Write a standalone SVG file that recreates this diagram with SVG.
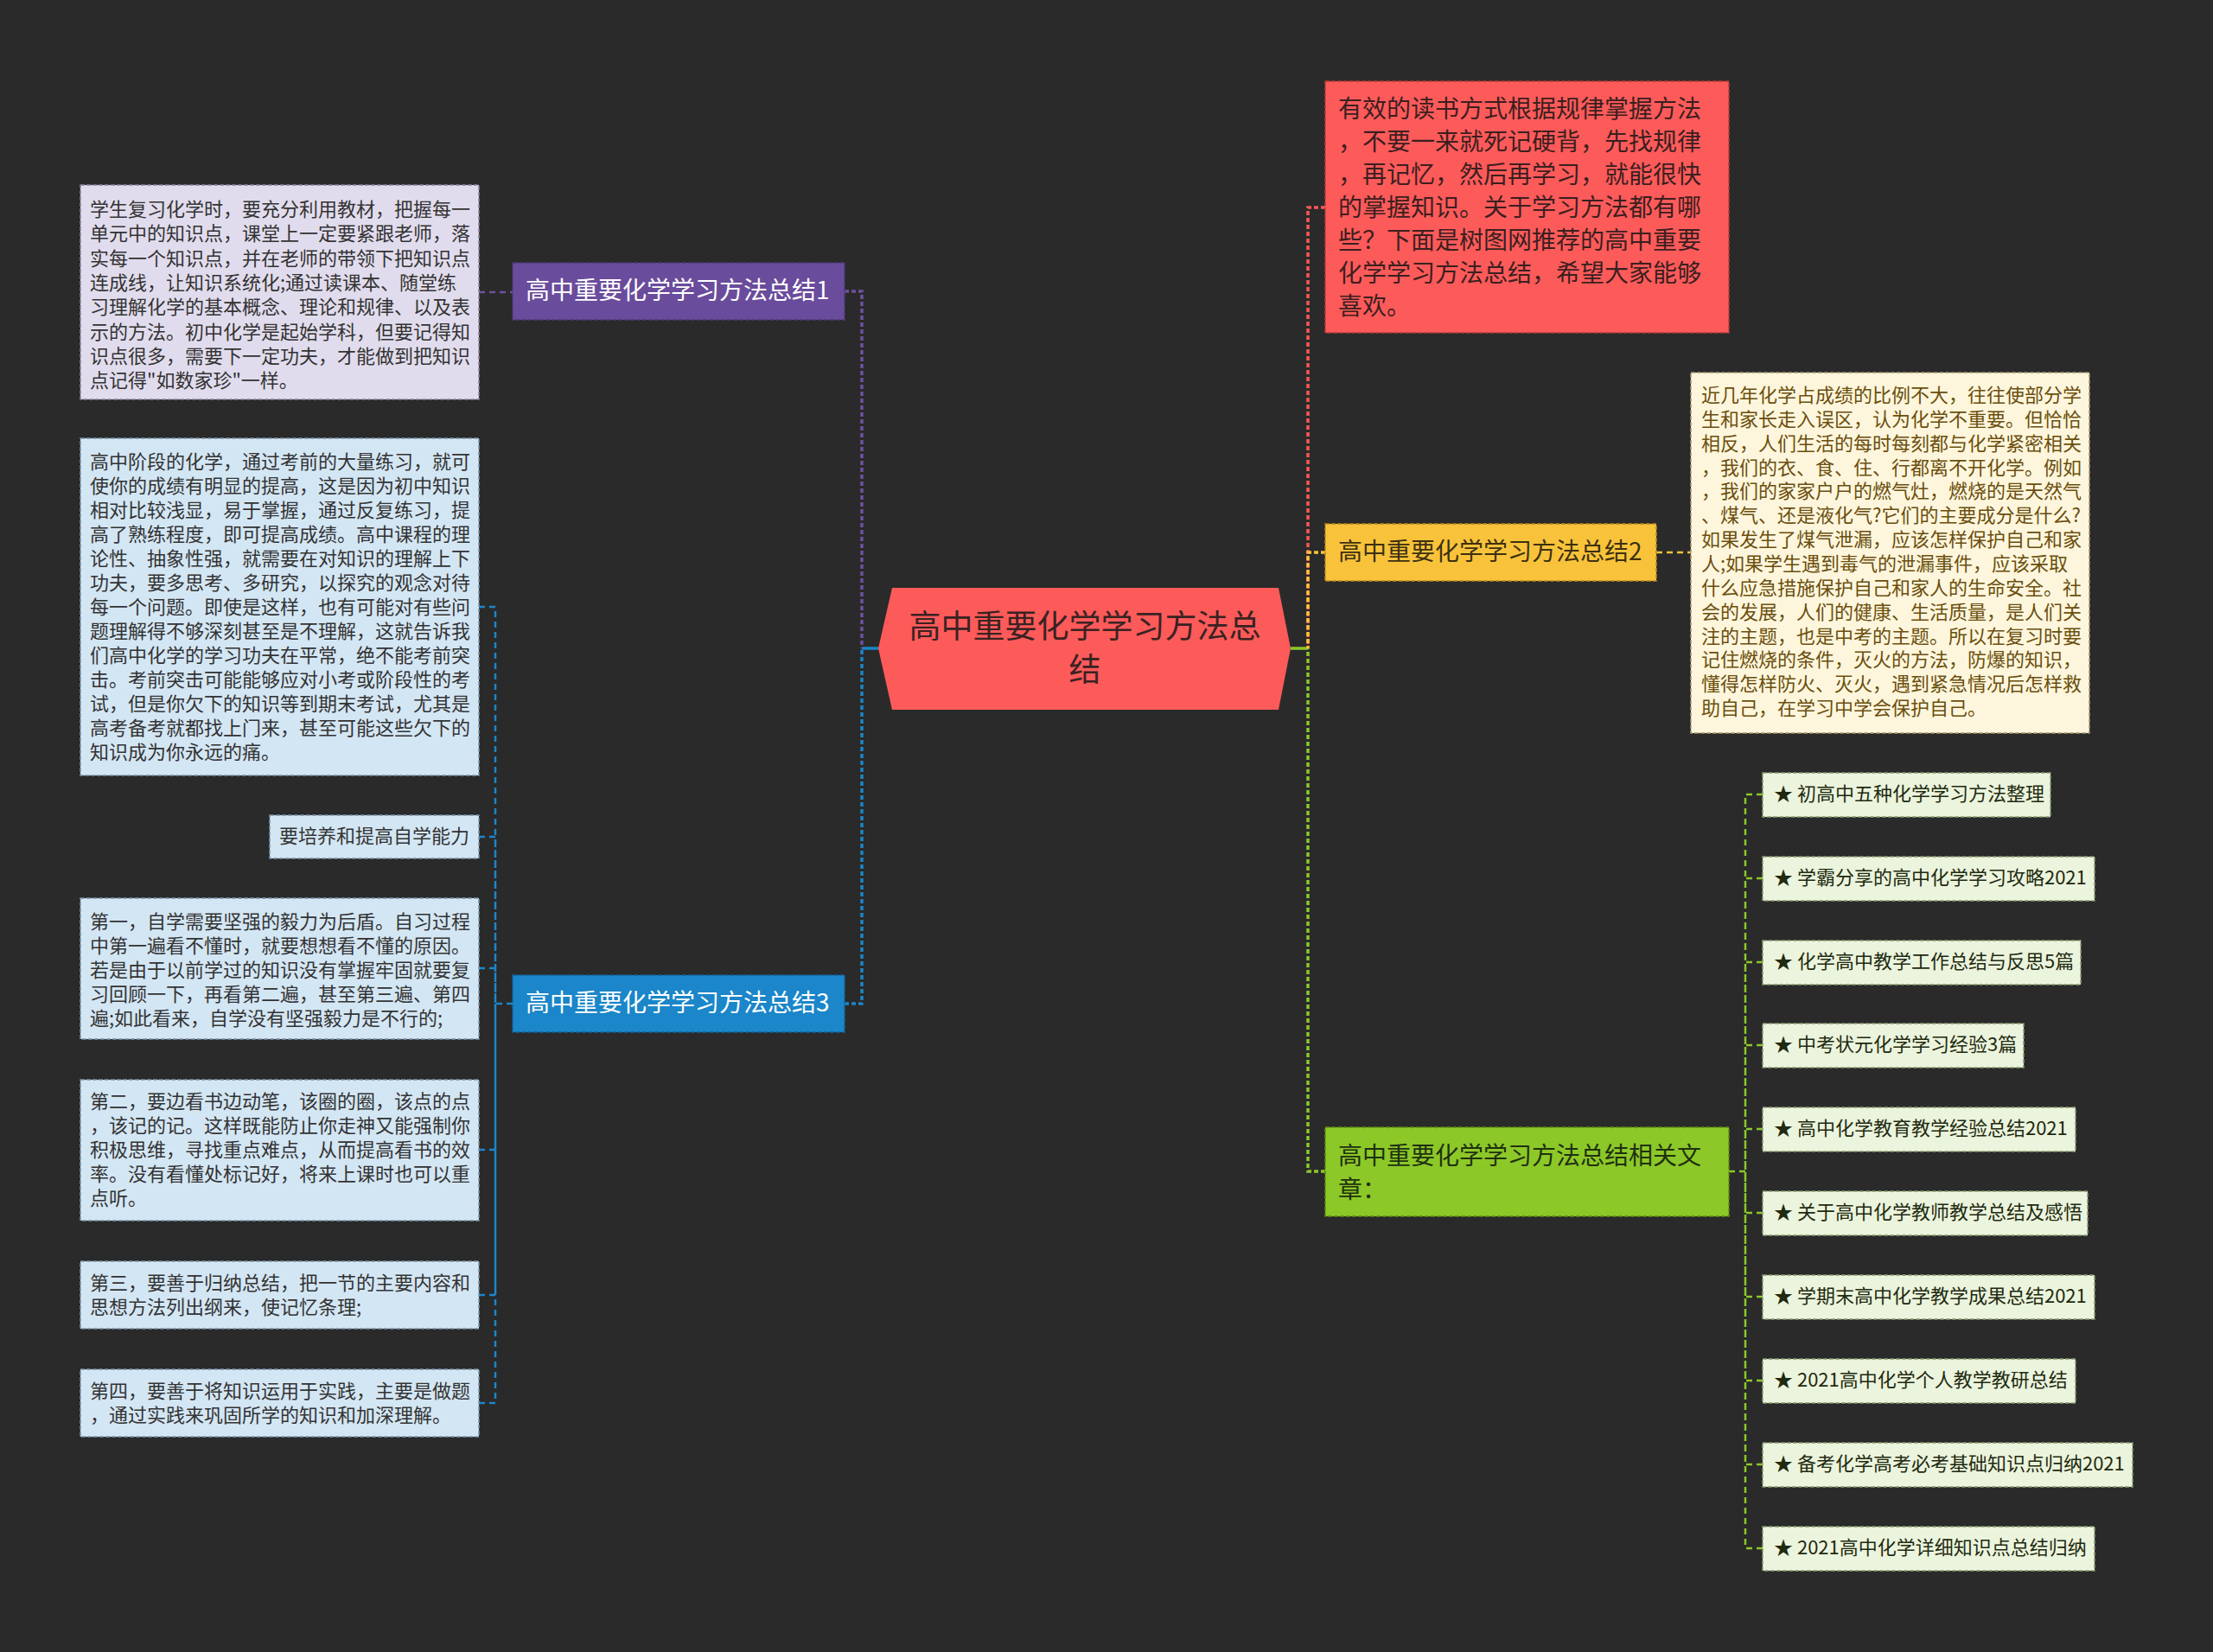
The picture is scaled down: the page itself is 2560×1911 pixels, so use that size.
<svg xmlns="http://www.w3.org/2000/svg" width="2560" height="1911" viewBox="0 0 2560 1911">
<style>
text{font-family:"Noto Sans CJK SC","Noto Sans",sans-serif;dominant-baseline:central;transform:translate(0px,-3px)}
.t22{font-size:22px}
.t28{font-size:28px}
.c{fill:none;stroke-width:2.5;stroke-dasharray:7 5}
.m{fill:none;stroke-width:3.5;stroke-dasharray:5 3}
.s{fill:none;stroke-width:3.5}
.bd{stroke-width:1.5;stroke-dasharray:5 2}
</style>
<rect width="2560" height="1911" fill="#2a2a2a"/>
<g id="connectors">
<path class="s" d="M1016 750H997" stroke="#1b86c9"/>
<path class="m" d="M977 337H997V750" stroke="#6d52a0"/>
<path class="m" d="M977 1161H997V750" stroke="#1b86c9"/>
<path class="s" d="M1493 750H1513" stroke="#8cc828"/>
<path class="m" d="M1533 240H1513V750" stroke="#fe5757"/>
<path class="m" d="M1533 639H1513V750" stroke="#f8c33b"/>
<path class="m" d="M1533 1355H1513V750" stroke="#8cc828"/>
<path class="c" d="M554 338H593" stroke="#6d52a0"/>
<path class="c" d="M593 1161H573" stroke="#1b86c9"/>
<path class="c" d="M554 702H573V1161M554 968H573V1161M554 1120H573V1161M554 1330H573V1161M554 1498H573V1161M554 1623H573V1161" stroke="#1b86c9"/>
<path class="c" d="M1916 639H1956" stroke="#f8c33b"/>
<path class="c" d="M2000 1355H2019" stroke="#8cc828"/>
<path class="c" d="M2039 919H2019V1355M2039 1016H2019V1355M2039 1113H2019V1355M2039 1209H2019V1355M2039 1306H2019V1355M2039 1403H2019V1355M2039 1500H2019V1355M2039 1597H2019V1355M2039 1694H2019V1355M2039 1791H2019V1355" stroke="#8cc828"/>
</g>
<g id="center">
<polygon points="1032,680 1479,680 1493,750 1479,821 1032,821 1016,750" fill="#fd5a5a"/>
<text x="1255" y="725" font-size="37" text-anchor="middle" fill="#3a2222">高中重要化学学习方法总</text>
<text x="1255" y="775" font-size="37" text-anchor="middle" fill="#3a2222">结</text>
</g>
<g id="n1">
<rect x="593" y="304" width="384" height="66" fill="#6a4c9c" stroke="#4e3878" class="bd"/>
<text x="608" y="337" class="t28" fill="#ffffff">高中重要化学学习方法总结1</text>
</g>
<g id="n1a">
<rect x="93" y="214" width="461" height="248" fill="#e1dced" stroke="#8a8399" class="bd"/>
<g class="t22" fill="#333333">
<text x="104" y="243">学生复习化学时，要充分利用教材，把握每一</text>
<text x="104" y="271.3">单元中的知识点，课堂上一定要紧跟老师，落</text>
<text x="104" y="299.6">实每一个知识点，并在老师的带领下把知识点</text>
<text x="104" y="327.9">连成线，让知识系统化;通过读课本、随堂练</text>
<text x="104" y="356.2">习理解化学的基本概念、理论和规律、以及表</text>
<text x="104" y="384.5">示的方法。初中化学是起始学科，但要记得知</text>
<text x="104" y="412.8">识点很多，需要下一定功夫，才能做到把知识</text>
<text x="104" y="441.1">点记得"如数家珍"一样。</text>
</g>
</g>
<g id="n3">
<rect x="593" y="1128" width="384" height="66" fill="#1b86c9" stroke="#12639a" class="bd"/>
<text x="608" y="1161" class="t28" fill="#ffffff">高中重要化学学习方法总结3</text>
</g>
<g id="n3a">
<rect x="93" y="507" width="461" height="390" fill="#d3e6f4" stroke="#7c93a6" class="bd"/>
<g class="t22" fill="#333333">
<text x="104" y="535">高中阶段的化学，通过考前的大量练习，就可</text>
<text x="104" y="563">使你的成绩有明显的提高，这是因为初中知识</text>
<text x="104" y="591">相对比较浅显，易于掌握，通过反复练习，提</text>
<text x="104" y="619">高了熟练程度，即可提高成绩。高中课程的理</text>
<text x="104" y="647">论性、抽象性强，就需要在对知识的理解上下</text>
<text x="104" y="675">功夫，要多思考、多研究，以探究的观念对待</text>
<text x="104" y="703">每一个问题。即使是这样，也有可能对有些问</text>
<text x="104" y="731">题理解得不够深刻甚至是不理解，这就告诉我</text>
<text x="104" y="759">们高中化学的学习功夫在平常，绝不能考前突</text>
<text x="104" y="787">击。考前突击可能能够应对小考或阶段性的考</text>
<text x="104" y="815">试，但是你欠下的知识等到期末考试，尤其是</text>
<text x="104" y="843">高考备考就都找上门来，甚至可能这些欠下的</text>
<text x="104" y="871">知识成为你永远的痛。</text>
</g>
</g>
<g id="n3b">
<rect x="312" y="943" width="242" height="50" fill="#d3e6f4" stroke="#7c93a6" class="bd"/>
<text x="323" y="968" class="t22" fill="#333333">要培养和提高自学能力</text>
</g>
<g id="n3c">
<rect x="93" y="1039" width="461" height="163" fill="#d3e6f4" stroke="#7c93a6" class="bd"/>
<g class="t22" fill="#333333">
<text x="104" y="1067">第一，自学需要坚强的毅力为后盾。自习过程</text>
<text x="104" y="1095">中第一遍看不懂时，就要想想看不懂的原因。</text>
<text x="104" y="1123">若是由于以前学过的知识没有掌握牢固就要复</text>
<text x="104" y="1151">习回顾一下，再看第二遍，甚至第三遍、第四</text>
<text x="104" y="1179">遍;如此看来，自学没有坚强毅力是不行的;</text>
</g>
</g>
<g id="n3d">
<rect x="93" y="1249" width="461" height="163" fill="#d3e6f4" stroke="#7c93a6" class="bd"/>
<g class="t22" fill="#333333">
<text x="104" y="1275">第二，要边看书边动笔，该圈的圈，该点的点</text>
<text x="104" y="1303">，该记的记。这样既能防止你走神又能强制你</text>
<text x="104" y="1331">积极思维，寻找重点难点，从而提高看书的效</text>
<text x="104" y="1359">率。没有看懂处标记好，将来上课时也可以重</text>
<text x="104" y="1387">点听。</text>
</g>
</g>
<g id="n3e">
<rect x="93" y="1459" width="461" height="78" fill="#d3e6f4" stroke="#7c93a6" class="bd"/>
<g class="t22" fill="#333333">
<text x="104" y="1485">第三，要善于归纳总结，把一节的主要内容和</text>
<text x="104" y="1513">思想方法列出纲来，使记忆条理;</text>
</g>
</g>
<g id="n3f">
<rect x="93" y="1584" width="461" height="78" fill="#d3e6f4" stroke="#7c93a6" class="bd"/>
<g class="t22" fill="#333333">
<text x="104" y="1610">第四，要善于将知识运用于实践，主要是做题</text>
<text x="104" y="1638">，通过实践来巩固所学的知识和加深理解。</text>
</g>
</g>
<g id="nred">
<rect x="1533" y="94" width="467" height="291" fill="#fd5a5a" stroke="#b83a3a" class="bd"/>
<g class="t28" fill="#3b1f1f">
<text x="1548" y="127">有效的读书方式根据规律掌握方法</text>
<text x="1548" y="165">，不要一来就死记硬背，先找规律</text>
<text x="1548" y="203">，再记忆，然后再学习，就能很快</text>
<text x="1548" y="241">的掌握知识。关于学习方法都有哪</text>
<text x="1548" y="279">些？下面是树图网推荐的高中重要</text>
<text x="1548" y="317">化学学习方法总结，希望大家能够</text>
<text x="1548" y="355">喜欢。</text>
</g>
</g>
<g id="n2">
<rect x="1533" y="606" width="383" height="66" fill="#f8c33b" stroke="#b88a1c" class="bd"/>
<text x="1548" y="639" class="t28" fill="#3d3010">高中重要化学学习方法总结2</text>
</g>
<g id="n2a">
<rect x="1956" y="431" width="461" height="417" fill="#fdf6dc" stroke="#a89a70" class="bd"/>
<g class="t22" fill="#6b4e0e">
<text x="1968" y="458">近几年化学占成绩的比例不大，往往使部分学</text>
<text x="1968" y="485.8">生和家长走入误区，认为化学不重要。但恰恰</text>
<text x="1968" y="513.7">相反，人们生活的每时每刻都与化学紧密相关</text>
<text x="1968" y="541.5">，我们的衣、食、住、行都离不开化学。例如</text>
<text x="1968" y="569.4">，我们的家家户户的燃气灶，燃烧的是天然气</text>
<text x="1968" y="597.2">、煤气、还是液化气?它们的主要成分是什么?</text>
<text x="1968" y="625.1">如果发生了煤气泄漏，应该怎样保护自己和家</text>
<text x="1968" y="652.9">人;如果学生遇到毒气的泄漏事件，应该采取</text>
<text x="1968" y="680.8">什么应急措施保护自己和家人的生命安全。社</text>
<text x="1968" y="708.6">会的发展，人们的健康、生活质量，是人们关</text>
<text x="1968" y="736.5">注的主题，也是中考的主题。所以在复习时要</text>
<text x="1968" y="764.3">记住燃烧的条件，灭火的方法，防爆的知识，</text>
<text x="1968" y="792.2">懂得怎样防火、灭火，遇到紧急情况后怎样救</text>
<text x="1968" y="820">助自己，在学习中学会保护自己。</text>
</g>
</g>
<g id="n4">
<rect x="1533" y="1304" width="467" height="103" fill="#8cc828" stroke="#5c8a14" class="bd"/>
<text x="1548" y="1338" class="t28" fill="#1f3010">高中重要化学学习方法总结相关文</text>
<text x="1548" y="1377" class="t28" fill="#1f3010">章：</text>
</g>
<g class="t22" fill="#1f2a10">
<g id="l1"><rect x="2039" y="894" width="333" height="51" fill="#ebf4dd" stroke="#8a9a70" class="bd"/><text x="2052" y="919">★ 初高中五种化学学习方法整理</text></g>
<g id="l2"><rect x="2039" y="991" width="384" height="51" fill="#ebf4dd" stroke="#8a9a70" class="bd"/><text x="2052" y="1016">★ 学霸分享的高中化学学习攻略2021</text></g>
<g id="l3"><rect x="2039" y="1088" width="368" height="51" fill="#ebf4dd" stroke="#8a9a70" class="bd"/><text x="2052" y="1113">★ 化学高中教学工作总结与反思5篇</text></g>
<g id="l4"><rect x="2039" y="1184" width="302" height="51" fill="#ebf4dd" stroke="#8a9a70" class="bd"/><text x="2052" y="1209">★ 中考状元化学学习经验3篇</text></g>
<g id="l5"><rect x="2039" y="1281" width="362" height="51" fill="#ebf4dd" stroke="#8a9a70" class="bd"/><text x="2052" y="1306">★ 高中化学教育教学经验总结2021</text></g>
<g id="l6"><rect x="2039" y="1378" width="376" height="51" fill="#ebf4dd" stroke="#8a9a70" class="bd"/><text x="2052" y="1403">★ 关于高中化学教师教学总结及感悟</text></g>
<g id="l7"><rect x="2039" y="1475" width="384" height="51" fill="#ebf4dd" stroke="#8a9a70" class="bd"/><text x="2052" y="1500">★ 学期末高中化学教学成果总结2021</text></g>
<g id="l8"><rect x="2039" y="1572" width="362" height="51" fill="#ebf4dd" stroke="#8a9a70" class="bd"/><text x="2052" y="1597">★ 2021高中化学个人教学教研总结</text></g>
<g id="l9"><rect x="2039" y="1669" width="428" height="51" fill="#ebf4dd" stroke="#8a9a70" class="bd"/><text x="2052" y="1694">★ 备考化学高考必考基础知识点归纳2021</text></g>
<g id="l10"><rect x="2039" y="1766" width="384" height="51" fill="#ebf4dd" stroke="#8a9a70" class="bd"/><text x="2052" y="1791">★ 2021高中化学详细知识点总结归纳</text></g>
</g>
</svg>
